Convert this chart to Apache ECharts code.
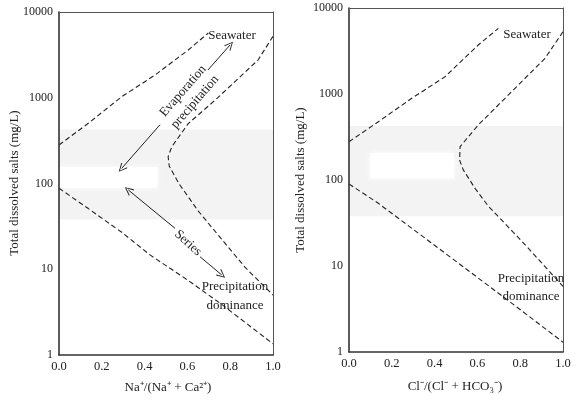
<!DOCTYPE html>
<html>
<head>
<meta charset="utf-8">
<script src="https://cdn.jsdelivr.net/npm/echarts@6/dist/echarts.min.js"></script>
<style>
html,body{margin:0;padding:0;background:#fff;}
#c{width:577px;height:402px;}
</style>
</head>
<body>
<div id="c"></div>
<script>
// ---- data ----
const xTicks = ['0.0','0.2','0.4','0.6','0.8','1.0'];
const yTicks = ['1','10','100','1000','10000'];

// Left panel: Na+/(Na+ + Ca2+)
const naUpper = [[0,281],[0.137,504],[0.293,1028],[0.449,1843],[0.604,3606],[0.698,5690]];
const naRight = [[1.0,5200],[0.93,2750],[0.73,940],[0.604,500],[0.527,268],[0.51,206],[0.515,160],[0.56,100],[0.65,48],[0.75,24],[0.87,10.5],[1.0,5.0]];
const naLower = [[0,88],[0.137,51],[0.293,27],[0.425,14.7],[0.604,7.4],[0.76,3.9],[1.0,1.35]];

// Right panel: Cl-/(Cl- + HCO3-)
const clUpper = [[0,279],[0.137,476],[0.293,891],[0.449,1589],[0.604,3715],[0.698,5800]];
const clRight = [[1.0,5300],[0.916,2600],[0.76,1064],[0.604,436],[0.519,244],[0.517,170],[0.534,131],[0.589,80],[0.65,50],[0.82,18],[1.0,5.8]];
const clLower = [[0,90],[0.137,53.6],[0.449,14.1],[0.76,3.7],[1.0,1.3]];

// shaded band and white patches [x0,y0,x1,y1]
const bandRange = [0,38,1,425];
const naPatch = [0,89,0.46,156];
const clPatch = [0.1,105,0.49,206];

// arrows (data coords): [x1,y1,x2,y2]
const evapArrowLow = [0.293,150,0.472,485];
const evapArrowHigh = [0.696,2107,0.799,4120];
const seriesArrowHigh = [0.324,84,0.542,30];
const seriesArrowLow = [0.659,14,0.760,8.6];

// ---- chart ----
const FONT = '"Liberation Serif","Times New Roman",serif';
const INK = '#222';
const chart = echarts.init(document.getElementById('c'));

function xAxisDef(gi, pos, labels){
  return {
    type:'value', gridIndex:gi, position:pos, min:0, max:1, interval:0.2, z:10,
    axisLine:{show:true, onZero:false, lineStyle:{color: pos==='bottom' ? '#333' : '#555', width: pos==='bottom'?1.6:1}},
    axisTick:{show:false}, splitLine:{show:false},
    axisLabel:{show:labels, margin:5, color:INK, fontFamily:FONT, fontSize:12.5,
      formatter:(v)=> xTicks[Math.round(v/0.2)]}
  };
}
function yAxisDef(gi, pos, labels){
  return {
    type:'log', logBase:10, gridIndex:gi, position:pos, min:1, max:10000, z:10,
    axisLine:{show:true, onZero:false, lineStyle:{color: pos==='left' ? '#333' : '#555', width: pos==='left'?1.6:1}},
    axisTick:{show:false}, splitLine:{show:false}, minorTick:{show:false},
    axisLabel:{show:labels, margin:6, color:INK, fontFamily:FONT, fontSize:12,
      formatter:(v)=> yTicks[Math.round(Math.log10(v))]}
  };
}
function boundary(data, xi, yi){
  return {type:'line', xAxisIndex:xi, yAxisIndex:yi, data:data, symbol:'none', z:3, silent:true,
    lineStyle:{color:INK, width:1.1, type:[5,3]}, animation:false};
}
function areas(xi, yi, patch){
  return {type:'line', xAxisIndex:xi, yAxisIndex:yi, data:[[0,1]], symbol:'none', z:1, silent:true,
    lineStyle:{opacity:0}, animation:false,
    markArea:{silent:true, z:1, data:[
      [{coord:[bandRange[0],bandRange[1]], itemStyle:{color:'#f3f3f3'}},{coord:[bandRange[2],bandRange[3]]}],
      [{coord:[patch[0],patch[1]], itemStyle:{color:'#ffffff', shadowBlur:6, shadowColor:'#ffffff'}},{coord:[patch[2],patch[3]]}]
    ]}};
}
const HEAD = 'path://M0,0 L6,10 L4.8,10.8 L0,2.2 L-4.8,10.8 L-6,10 Z';
function seg(a, startHead, endHead){
  return [{coord:[a[0],a[1]], symbol: startHead?HEAD:'none'},{coord:[a[2],a[3]], symbol: endHead?HEAD:'none'}];
}
const arrows = {type:'line', xAxisIndex:0, yAxisIndex:0, data:[[0,1]], symbol:'none', z:4, silent:true,
  lineStyle:{opacity:0}, animation:false,
  markLine:{silent:true, animation:false, symbolSize:[8,9], label:{show:false},
    lineStyle:{color:INK, width:1, type:'solid'},
    emphasis:{disabled:true},
    data:[
      seg(evapArrowLow, true, false),
      seg(evapArrowHigh, false, true),
      seg(seriesArrowHigh, true, false),
      seg(seriesArrowLow, false, true)
    ]}};

function txt(text, x, y, rot, size){
  return {type:'text', x:x, y:y, rotation:rot||0, z:20, silent:true,
    style:{text:text, font:(size||13)+'px '+FONT, fill:INK, align:'center', verticalAlign:'middle', textAlign:'center', textVerticalAlign:'middle'}};
}

chart.setOption({
  animation:false,
  backgroundColor:'#ffffff',
  grid:[
    {left:59, top:12, width:214, height:343},
    {left:349, top:8, width:214, height:344}
  ],
  xAxis:[xAxisDef(0,'bottom',true), xAxisDef(0,'top',false), xAxisDef(1,'bottom',true), xAxisDef(1,'top',false)],
  yAxis:[yAxisDef(0,'left',true), yAxisDef(0,'right',false), yAxisDef(1,'left',true), yAxisDef(1,'right',false)],
  series:[
    areas(0,0,naPatch),
    areas(2,2,clPatch),
    boundary(naUpper,0,0), boundary(naRight,0,0), boundary(naLower,0,0),
    boundary(clUpper,2,2), boundary(clRight,2,2), boundary(clLower,2,2),
    arrows
  ],
  graphic:[
    txt('Total dissolved salts (mg/L)', 15, 183, Math.PI/2),
    txt('Total dissolved salts (mg/L)', 301, 180, Math.PI/2),
    txt('Na\u207A/(Na\u207A + Ca\u00B2\u207A)', 168, 388, 0),
    txt('Cl\u207B/(Cl\u207B + HCO\u2083\u207B)', 455, 387, 0),
    txt('Seawater', 232, 36, 0),
    txt('Seawater', 527, 35, 0),
    txt('Evaporation', 183, 91, 49*Math.PI/180),
    txt('precipitation', 195, 102, 49*Math.PI/180),
    txt('Series', 188, 243, -42*Math.PI/180),
    txt('Precipitation', 235, 287, 0),
    txt('dominance', 235, 306, 0),
    txt('Precipitation', 531, 279, 0),
    txt('dominance', 531, 297, 0)
  ]
});
</script>
</body>
</html>
